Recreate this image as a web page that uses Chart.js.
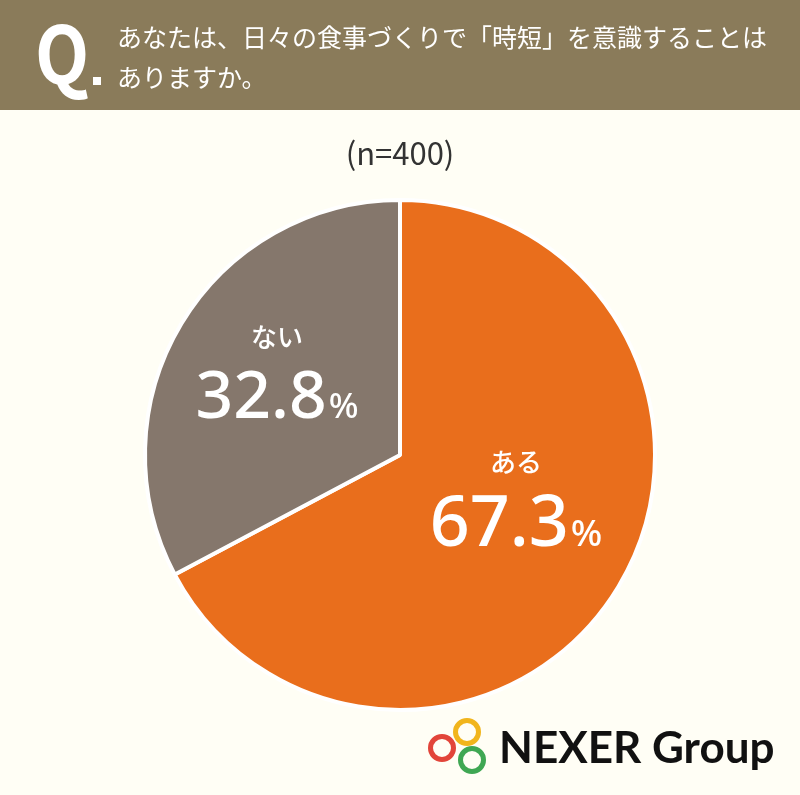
<!DOCTYPE html>
<html lang="ja">
<head>
<meta charset="utf-8">
<script src="https://cdn.jsdelivr.net/npm/chart.js@4/dist/chart.umd.min.js"></script>
<style>
  html, body { margin: 0; padding: 0; background: #fffef5; }
  #wrap { width: 800px; height: 795px; position: relative; }
</style>
</head>
<body>
<div id="wrap"><canvas id="pieChart" width="800" height="795"></canvas></div>
<script>
// chart data
const categories = ['ある', 'ない'];
const shares = [67.3, 32.8];
const sliceColors = ['#e96e1c', '#85776c'];
const questionLines = ['あなたは、日々の食事づくりで「時短」を意識することは', 'ありますか。'];
const sampleNote = '(n=400)';

const JP = '"Noto Sans CJK JP", "Noto Sans", sans-serif';

// header band, sample size, logo
const decorPlugin = {
    id: 'decor',
    beforeDraw(chart) {
        const ctx = chart.ctx;
        ctx.save();
        ctx.fillStyle = '#fffef5';
        ctx.fillRect(0, 0, chart.width, chart.height);
        ctx.fillStyle = '#8a7b5a';
        ctx.fillRect(0, 0, chart.width, 110);

        ctx.fillStyle = '#ffffff';
        ctx.textBaseline = 'alphabetic';
        ctx.textAlign = 'left';
        ctx.font = 'bold 80px ' + JP;
        ctx.save();
        ctx.translate(35, 84);
        ctx.scale(0.88, 1);
        ctx.fillText('Q', 0, 0);
        ctx.restore();
        ctx.fillRect(93, 77, 8, 8);

        ctx.font = '25px ' + JP;
        ctx.fillText(questionLines[0], 117, 47);
        ctx.fillText(questionLines[1], 117, 87);

        ctx.fillStyle = '#333333';
        ctx.textAlign = 'center';
        ctx.font = '31px ' + JP;
        ctx.fillText(sampleNote, 400, 165);
        ctx.restore();
    },
    afterDraw(chart) {
        const ctx = chart.ctx;
        ctx.save();
        // logo rings
        const rings = [[467, 732, '#f1b51c'], [442, 748, '#e2453a'], [472, 760, '#3fa753']];
        ctx.lineWidth = 5;
        rings.forEach(function(r) {
            ctx.strokeStyle = r[2];
            ctx.beginPath();
            ctx.arc(r[0], r[1], 11.5, 0, Math.PI * 2);
            ctx.stroke();
        });
        ctx.fillStyle = '#111111';
        ctx.textAlign = 'left';
        ctx.font = 'bold 44px "Lato", "Noto Sans", sans-serif';
        ctx.fillText('NEXER Group', 499, 763);
        ctx.restore();
    }
};

// big labels inside slices
const labelPlugin = {
    id: 'sliceLabels',
    afterDatasetsDraw(chart) {
        const ctx = chart.ctx;
        const spots = [
            { x: 516, y: 462, ny: 546, num: 70, pct: 37 },
            { x: 277, y: 337, ny: 418, num: 66, pct: 35 }
        ];
        ctx.save();
        ctx.fillStyle = '#ffffff';
        ctx.textBaseline = 'middle';
        ctx.textAlign = 'center';
        spots.forEach(function(s, i) {
            ctx.font = '500 26px ' + JP;
            ctx.fillText(categories[i], s.x, s.y);

            const numText = shares[i].toFixed(1);
            ctx.textBaseline = 'alphabetic';
            ctx.font = '500 ' + s.num + 'px "Noto Sans", sans-serif';
            const w1 = ctx.measureText(numText).width;
            ctx.font = '500 ' + s.pct + 'px "Noto Sans", sans-serif';
            const w2 = ctx.measureText('%').width;
            const left = s.x - (w1 + w2 + 2) / 2;
            ctx.textAlign = 'left';
            ctx.font = '500 ' + s.num + 'px "Noto Sans", sans-serif';
            ctx.fillText(numText, left, s.ny);
            ctx.font = '500 ' + s.pct + 'px "Noto Sans", sans-serif';
            ctx.fillText('%', left + w1 + 2, s.ny);
            ctx.textAlign = 'center';
            ctx.textBaseline = 'middle';
        });
        ctx.restore();
    }
};

document.addEventListener("DOMContentLoaded", function() {
    const ctx = document.getElementById("pieChart").getContext("2d");

    new Chart(ctx, {
        type: 'pie',
        data: {
            labels: categories,
            datasets: [{
                data: shares,
                backgroundColor: sliceColors,
                borderColor: '#ffffff',
                borderWidth: 4
            }]
        },
        options: {
            responsive: false,
            animation: false,
            layout: {
                padding: { left: 143, right: 143, top: 198, bottom: 83 }
            },
            plugins: {
                legend: { display: false },
                tooltip: { enabled: false }
            }
        },
        plugins: [decorPlugin, labelPlugin]
    });
});
</script>
</body>
</html>
